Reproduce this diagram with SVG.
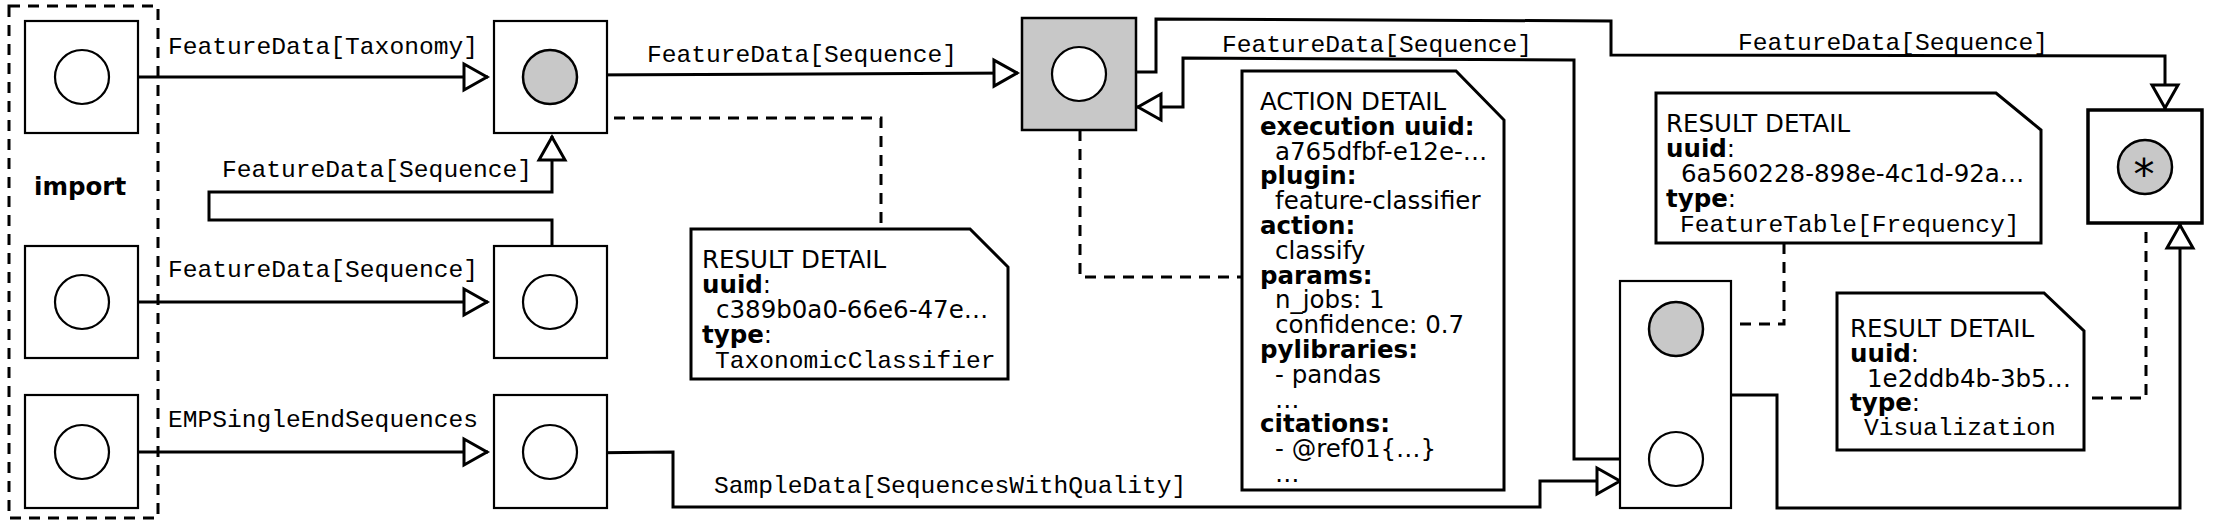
<svg xmlns="http://www.w3.org/2000/svg" width="2226" height="528" viewBox="0 0 2226 528">
<style>
.bg{fill:#fff}
.box{fill:#fff;stroke:#000;stroke-width:2.2}
.gbox{fill:#c8c8c8;stroke:#000;stroke-width:2.5}
.fbox{fill:#fff;stroke:#000;stroke-width:3.5}
.c{fill:#fff;stroke:#000;stroke-width:2.2}
.g{fill:#c8c8c8;stroke:#000;stroke-width:2.5}
.grp{fill:none;stroke:#000;stroke-width:3;stroke-dasharray:11 8}
.note{fill:#fff;stroke:#000;stroke-width:3}
.e{fill:none;stroke:#000;stroke-width:3;marker-end:url(#arr)}
.d{fill:none;stroke:#000;stroke-width:3;stroke-dasharray:11 8}
.m{font-family:"Liberation Mono","DejaVu Sans Mono",monospace;font-size:24.6px;fill:#000}
.s{font-family:"DejaVu Sans",sans-serif;font-size:24.5px;fill:#000}
.b{font-weight:bold}
</style>
<defs>
<marker id="arr" viewBox="-28 -17 34 34" refX="1" refY="0" markerWidth="34" markerHeight="34" orient="auto" markerUnits="userSpaceOnUse">
<path d="M-23,-13 L0,0 L-23,13 Z" fill="#fff" stroke="#000" stroke-width="3"/>
</marker>
</defs>
<rect class="bg" x="0" y="0" width="2226" height="528"/>

<g id="import-group">
<rect class="grp" x="9" y="6" width="149" height="512"/>
<text class="s b" x="34" y="195">import</text>
</g>

<g id="connectors">
<path class="e" d="M109,77 H488"/>
<text class="m" x="168" y="54">FeatureData[Taxonomy]</text>
<path class="e" d="M109,302 H488"/>
<text class="m" x="168" y="277">FeatureData[Sequence]</text>
<path class="e" d="M109,452 H488"/>
<text class="m" x="168" y="427">EMPSingleEndSequences</text>
<path class="e" d="M552,275 V220 H209 V192 H552 V136"/>
<text class="m" x="222" y="177">FeatureData[Sequence]</text>
<path class="e" d="M577,75 L1018,73"/>
<text class="m" x="647" y="62">FeatureData[Sequence]</text>
<path class="e" d="M577,453 L673,452 V507 H1540 V481 H1621"/>
<text class="m" x="714" y="493">SampleData[SequencesWithQuality]</text>
<path class="e" d="M1136,72 H1156 V19 L1611,21 V55 L2165,56 V109"/>
<text class="m" x="1738" y="50">FeatureData[Sequence]</text>
<path class="e" d="M1649,459 H1574 V60 L1183,58 V107 H1137"/>
<text class="m" x="1222" y="52">FeatureData[Sequence]</text>
<path class="e" d="M1676,356 V395 H1777 V508 H2180 V224"/>
<path class="d" d="M552,104 V118 H881 V229"/>
<path class="d" d="M1080,130 V277 H1242"/>
<path class="d" d="M1784,243 V324 H1703"/>
<path class="d" d="M2146,194 V398 H2084"/>
</g>

<g id="n1"><rect class="box" x="25" y="21" width="113" height="112"/><circle class="c" cx="82" cy="77" r="27"/></g>
<g id="n4"><rect class="box" x="25" y="246" width="113" height="112"/><circle class="c" cx="82" cy="302" r="27"/></g>
<g id="n6"><rect class="box" x="25" y="395" width="113" height="113"/><circle class="c" cx="82" cy="452" r="27"/></g>
<g id="n2"><rect class="box" x="494" y="21" width="113" height="112"/><circle class="g" cx="550" cy="77" r="27"/></g>
<g id="n5"><rect class="box" x="494" y="246" width="113" height="112"/><circle class="c" cx="550" cy="302" r="27"/></g>
<g id="n7"><rect class="box" x="494" y="395" width="113" height="113"/><circle class="c" cx="550" cy="452" r="27"/></g>
<g id="n3"><rect class="gbox" x="1022" y="18" width="114" height="112"/><circle class="c" cx="1079" cy="74" r="27"/></g>
<g id="n8"><rect class="box" x="1620" y="281" width="111" height="227"/><circle class="g" cx="1676" cy="329" r="27"/><circle class="c" cx="1676" cy="459" r="27"/></g>
<g id="n9"><rect class="fbox" x="2088" y="110" width="114" height="113"/><circle class="g" cx="2145" cy="167" r="27"/><text class="s" x="2144" y="189" style="font-size:42px" text-anchor="middle">*</text></g>

<g id="result1">
<path class="note" d="M691,229 H970 L1008,267 V379 H691 Z"/>
<text class="s" x="702" y="268">RESULT DETAIL</text>
<text class="s" x="702" y="293"><tspan class="b">uuid</tspan>:</text>
<text class="s" x="716" y="318">c389b0a0-66e6-47e…</text>
<text class="s" x="702" y="343"><tspan class="b">type</tspan>:</text>
<text class="m" x="715" y="368">TaxonomicClassifier</text>
</g>

<g id="action">
<path class="note" d="M1242,71 H1456 L1504,120 V490 H1242 Z"/>
<text class="s" x="1260" y="110">ACTION DETAIL</text>
<text class="s b" x="1260" y="134.8">execution uuid:</text>
<text class="s" x="1275" y="159.6">a765dfbf-e12e-…</text>
<text class="s b" x="1260" y="184.4">plugin:</text>
<text class="s" x="1275" y="209.2">feature-classifier</text>
<text class="s b" x="1260" y="234">action:</text>
<text class="s" x="1275" y="258.8">classify</text>
<text class="s b" x="1260" y="283.6">params:</text>
<text class="s" x="1275" y="308.4">n_jobs: 1</text>
<text class="s" x="1275" y="333.2">confidence: 0.7</text>
<text class="s b" x="1260" y="358">pylibraries:</text>
<text class="s" x="1275" y="382.8">- pandas</text>
<text class="s" x="1275" y="407.6">…</text>
<text class="s b" x="1260" y="432.4">citations:</text>
<text class="s" x="1275" y="457.2">- @ref01{…}</text>
<text class="s" x="1275" y="482">…</text>
</g>

<g id="result2">
<path class="note" d="M1656,93 H1996 L2041,130 V243 H1656 Z"/>
<text class="s" x="1666" y="132">RESULT DETAIL</text>
<text class="s" x="1666" y="157"><tspan class="b">uuid</tspan>:</text>
<text class="s" x="1681" y="182">6a560228-898e-4c1d-92a…</text>
<text class="s" x="1666" y="207"><tspan class="b">type</tspan>:</text>
<text class="m" x="1680" y="232">FeatureTable[Frequency]</text>
</g>

<g id="result3">
<path class="note" d="M1837,293 H2044 L2084,331 V450 H1837 Z"/>
<text class="s" x="1850" y="337">RESULT DETAIL</text>
<text class="s" x="1850" y="362"><tspan class="b">uuid</tspan>:</text>
<text class="s" x="1867" y="387">1e2ddb4b-3b5…</text>
<text class="s" x="1850" y="411"><tspan class="b">type</tspan>:</text>
<text class="m" x="1864" y="435">Visualization</text>
</g>
</svg>
